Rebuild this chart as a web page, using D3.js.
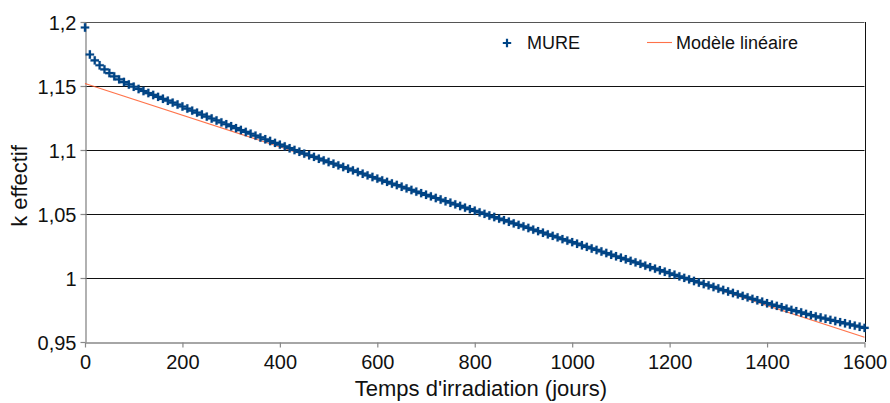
<!DOCTYPE html>
<html>
<head>
<meta charset="utf-8">
<script src="https://cdn.jsdelivr.net/npm/d3@7"></script>
<style>
  html, body { margin: 0; padding: 0; background: #fff; }
  svg { display: block; font-family: "Liberation Sans", Arial, sans-serif; }
</style>
</head>
<body>
<svg id="chart" width="890" height="403"></svg>
<script>
// ---- Data ----
const days = d3.range(0, 1601, 10);
const mureValues = [
  1.1957, 1.1746, 1.1700, 1.1662, 1.1630, 1.1601, 1.1575, 1.1552, 1.1531, 1.1512,
  1.1494, 1.1477, 1.1461, 1.1445, 1.1430, 1.1415, 1.1400, 1.1385, 1.1370, 1.1355,
  1.1340, 1.1324, 1.1308, 1.1292, 1.1277, 1.1261, 1.1246, 1.1231, 1.1216, 1.1201,
  1.1186, 1.1171, 1.1156, 1.1141, 1.1127, 1.1112, 1.1098, 1.1084, 1.1070, 1.1056,
  1.1042, 1.1028, 1.1014, 1.1000, 1.0986, 1.0972, 1.0959, 1.0946, 1.0932, 1.0919,
  1.0906, 1.0893, 1.0880, 1.0867, 1.0854, 1.0841, 1.0828, 1.0815, 1.0802, 1.0789,
  1.0776, 1.0763, 1.0751, 1.0738, 1.0726, 1.0713, 1.0700, 1.0688, 1.0675, 1.0663,
  1.0650, 1.0638, 1.0625, 1.0613, 1.0600, 1.0588, 1.0575, 1.0563, 1.0550, 1.0538,
  1.0525, 1.0513, 1.0501, 1.0488, 1.0476, 1.0464, 1.0452, 1.0440, 1.0427, 1.0415,
  1.0403, 1.0391, 1.0378, 1.0366, 1.0354, 1.0341, 1.0329, 1.0317, 1.0304, 1.0292,
  1.0280, 1.0268, 1.0256, 1.0243, 1.0231, 1.0219, 1.0207, 1.0195, 1.0182, 1.0170,
  1.0158, 1.0146, 1.0134, 1.0122, 1.0110, 1.0097, 1.0085, 1.0073, 1.0061, 1.0049,
  1.0037, 1.0025, 1.0013, 1.0001, 0.9989, 0.9977, 0.9965, 0.9953, 0.9942, 0.9930,
  0.9918, 0.9906, 0.9895, 0.9883, 0.9872, 0.9860, 0.9849, 0.9837, 0.9826, 0.9814,
  0.9803, 0.9792, 0.9782, 0.9772, 0.9761, 0.9751, 0.9741, 0.9731, 0.9720, 0.9710,
  0.9700, 0.9691, 0.9682, 0.9673, 0.9664, 0.9655, 0.9646, 0.9637, 0.9628, 0.9619,
  0.9610
];
const linearDays = [0, 1600];
const linearValues = [1.152, 0.9537];
const xTicks = [0, 200, 400, 600, 800, 1000, 1200, 1400, 1600];
const xTickLabels = ["0", "200", "400", "600", "800", "1000", "1200", "1400", "1600"];
const yTicks = [0.95, 1, 1.05, 1.1, 1.15, 1.2];
const yTickLabels = ["0,95", "1", "1,05", "1,1", "1,15", "1,2"];
const seriesNames = ["MURE", "Modèle linéaire"];
const xTitle = "Temps d'irradiation (jours)";
const yTitle = "k effectif";

// ---- Layout ----
const svg = d3.select("#chart");
const x = d3.scaleLinear().domain([0, 1600]).range([85, 864.5]);
const y = d3.scaleLinear().domain([0.95, 1.2]).range([342, 22]);
const blue = "#004586", orange = "#ff5a2a";

// gridlines
svg.append("g").selectAll("line").data(yTicks.filter(d => d > 0.95)).join("line")
  .attr("x1", x(0)).attr("x2", x(1600))
  .attr("y1", d => Math.round(y(d)) + 0.5).attr("y2", d => Math.round(y(d)) + 0.5)
  .attr("stroke", d => d === 1.2 ? "#555" : "#111").attr("stroke-width", 1);

// right border
svg.append("line").attr("x1", Math.round(x(1600)) + 0.5).attr("x2", Math.round(x(1600)) + 0.5)
  .attr("y1", y(1.2)).attr("y2", y(0.95)).attr("stroke", "#111");

// axes
const xAxis = d3.axisBottom(x).tickValues(xTicks).tickFormat((d, i) => xTickLabels[i]).tickSize(5).tickSizeOuter(0).tickPadding(6);
const yAxis = d3.axisLeft(y).tickValues(yTicks).tickFormat((d, i) => yTickLabels[i]).tickSize(5).tickSizeOuter(0).tickPadding(4);

const gx = svg.append("g").attr("transform", `translate(0,${Math.round(y(0.95)) + 0.5})`).call(xAxis);
const gy = svg.append("g").attr("transform", `translate(${Math.round(x(0)) + 0.5},0)`).call(yAxis);
[gx, gy].forEach(g => {
  g.select(".domain").attr("stroke", "#888").attr("stroke-width", 1.3);
  g.selectAll(".tick line").attr("stroke", "#888").attr("stroke-width", 1.2);
  g.selectAll(".tick text").attr("fill", "#111").style("font-size", "20px")
    .style("font-family", "'Liberation Sans', Arial, sans-serif");
});
gy.selectAll(".tick text").attr("dy", "0.36em");
gx.selectAll(".tick text").attr("dy", "0.75em");

// linear model line
const line = d3.line().x(d => x(d[0])).y(d => y(d[1]));
svg.append("path")
  .datum(linearDays.map((d, i) => [d, linearValues[i]]))
  .attr("d", line).attr("fill", "none").attr("stroke", orange).attr("stroke-width", 1.1).attr("opacity", 0.85);

// MURE markers
const plus = "M-1.1,-4.2h2.2v3.1h3.1v2.2h-3.1v3.1h-2.2v-3.1h-3.1v-2.2h3.1z";
svg.append("g").selectAll("path").data(days.map((d, i) => [d, mureValues[i]])).join("path")
  .attr("transform", d => `translate(${x(d[0])},${y(d[1])})`)
  .attr("d", plus).attr("fill", blue).attr("stroke", blue).attr("stroke-width", 0.3).attr("stroke-opacity", 0.5);

// Legend
svg.append("path").attr("transform", "translate(507,43)").attr("d", plus).attr("fill", blue);
svg.append("text").attr("x", 527).attr("y", 49).text(seriesNames[0])
  .style("font-size", "18px").attr("fill", "#111");
svg.append("line").attr("x1", 647).attr("x2", 672).attr("y1", 42.5).attr("y2", 42.5)
  .attr("stroke", orange).attr("stroke-width", 1.1).attr("opacity", 0.85);
svg.append("text").attr("x", 676).attr("y", 49).text(seriesNames[1])
  .style("font-size", "18px").attr("fill", "#111");

// axis titles
svg.append("text").attr("x", 481).attr("y", 396).attr("text-anchor", "middle")
  .style("font-size", "22px").attr("fill", "#111").text(xTitle);
svg.append("text").attr("transform", "translate(27,186) rotate(-90)").attr("text-anchor", "middle")
  .style("font-size", "22px").attr("fill", "#111").text(yTitle);
</script>
</body>
</html>
